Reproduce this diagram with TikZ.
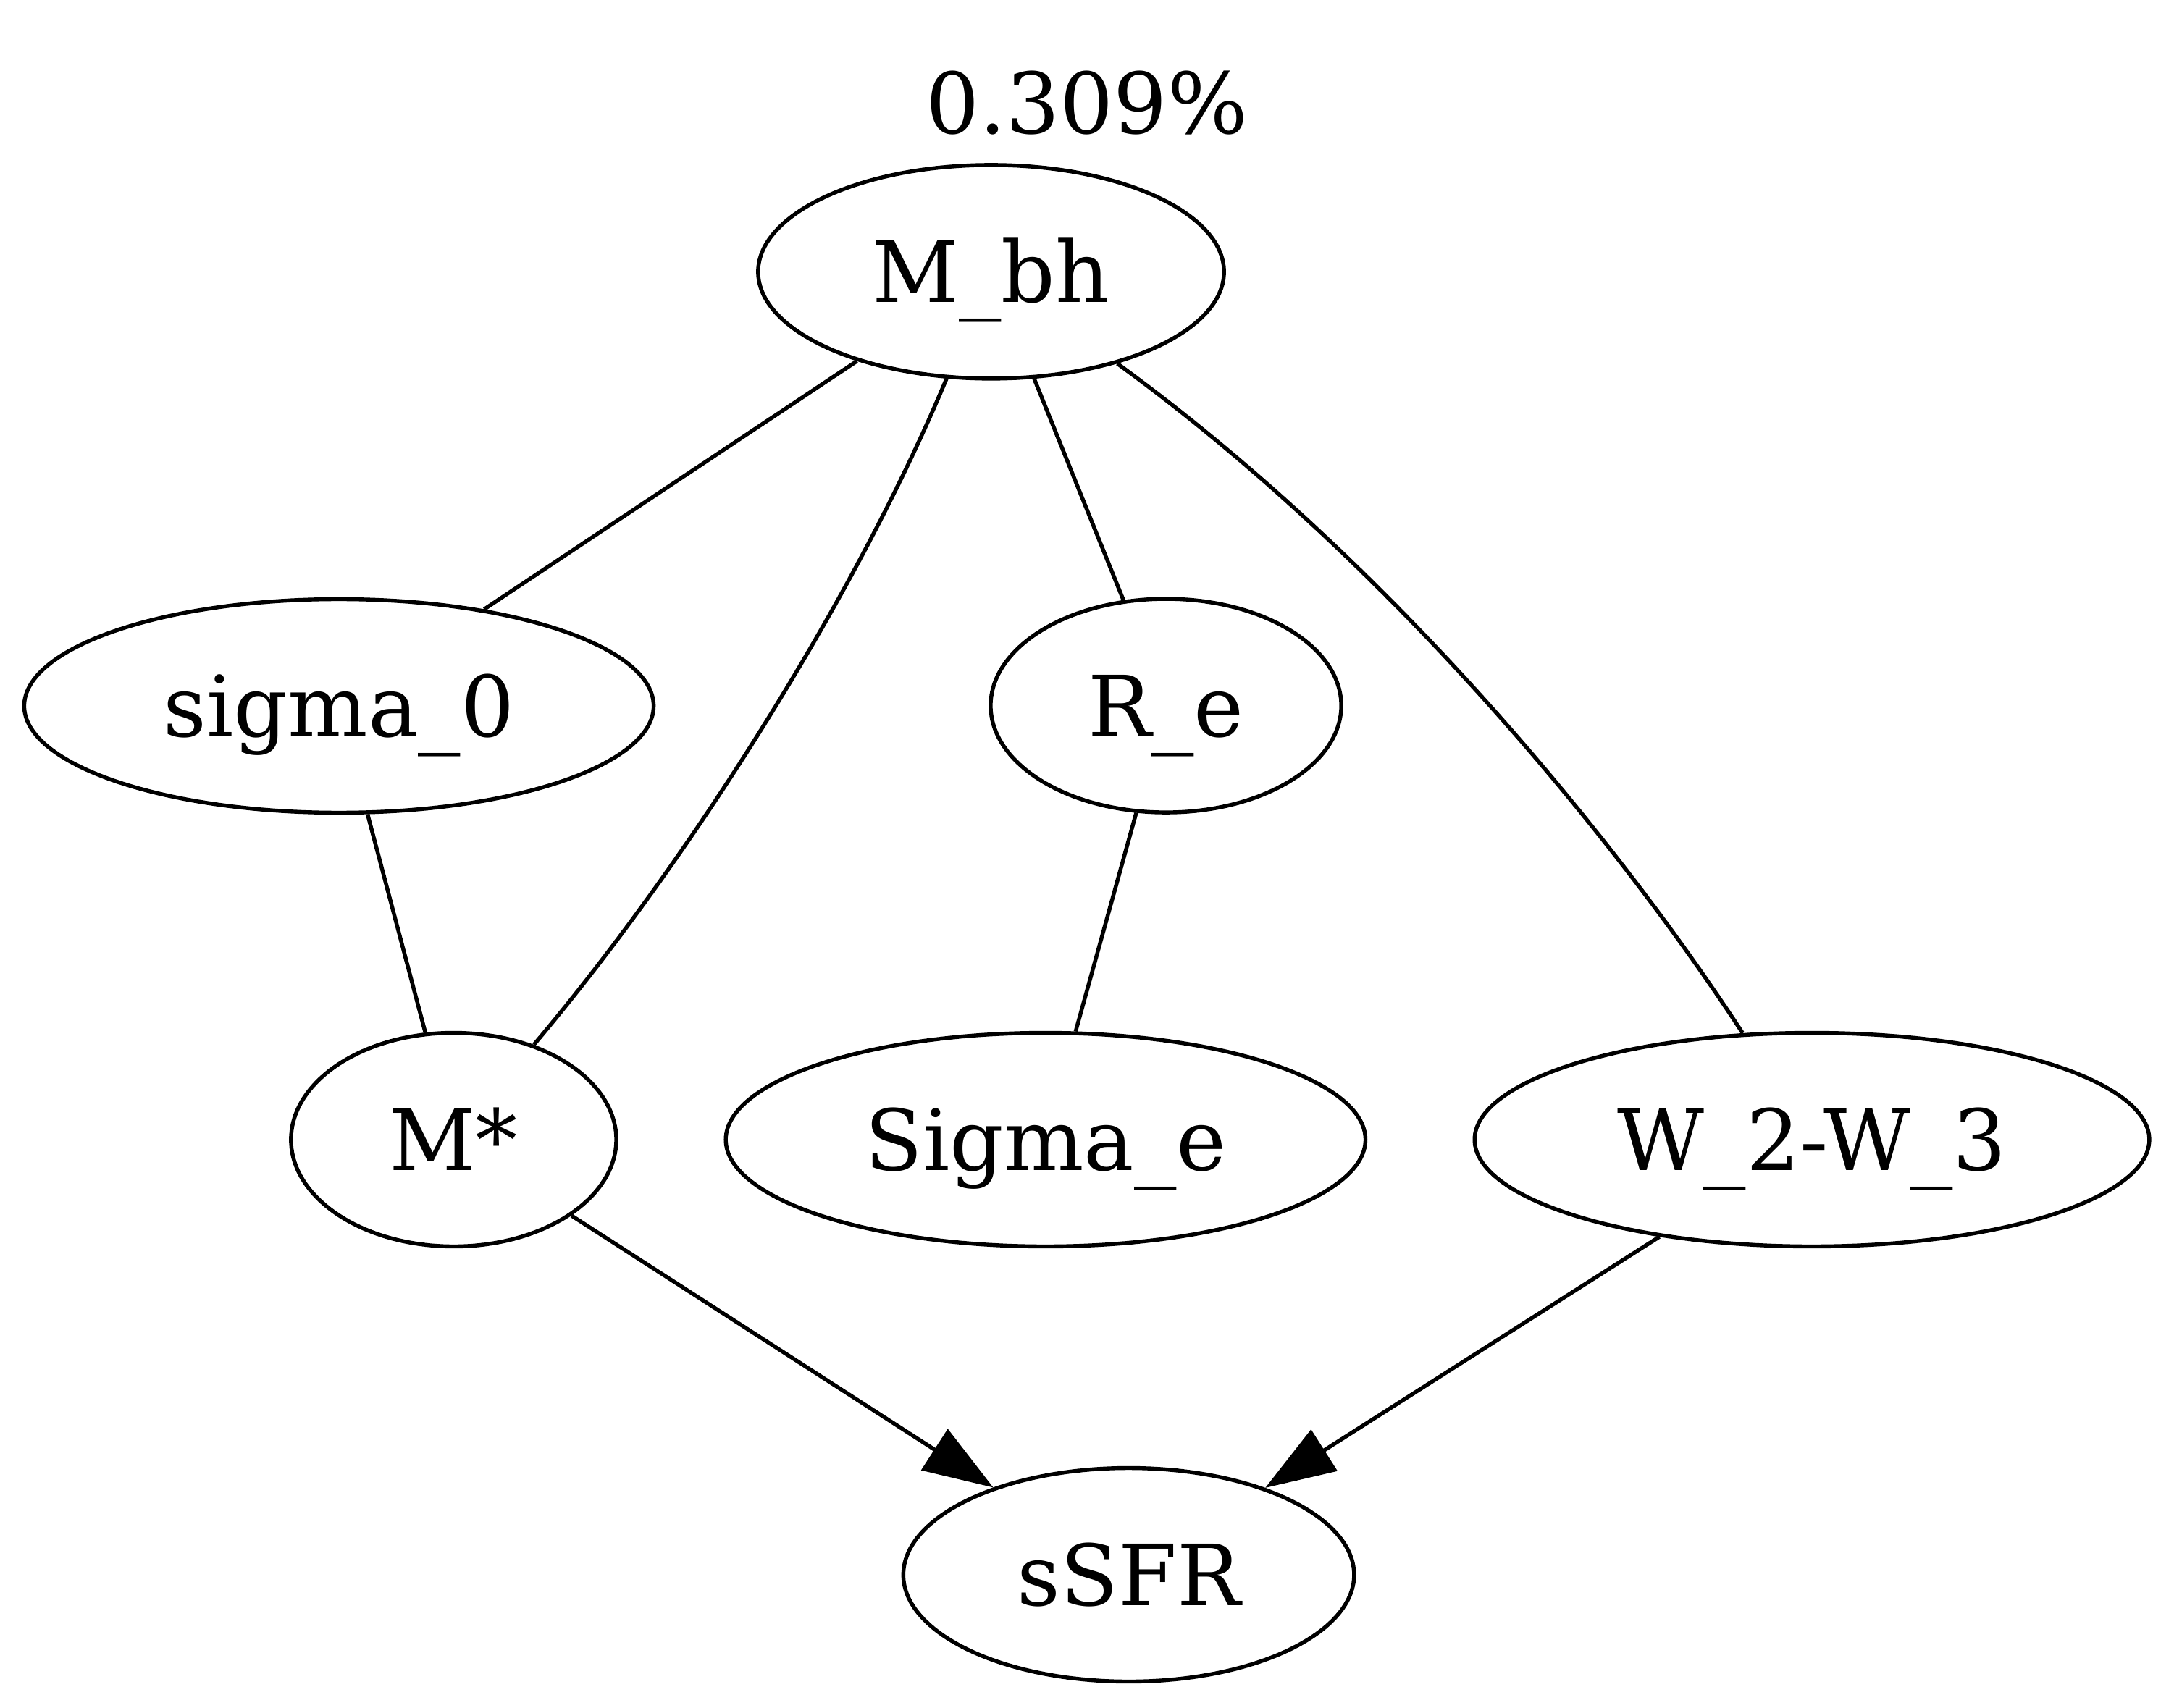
\documentclass[tikz,border=0pt]{standalone}
\usepackage{fontspec}
\setmainfont{DejaVu Serif}
\usetikzlibrary{arrows.meta, shapes.geometric}
\tikzset{
  every picture/.style={line width=0.65pt},
  var/.style={draw, ellipse, inner sep=0pt, minimum width=#1, minimum height=35.4pt,
    font=\fontsize{14}{17}\selectfont, text height=10.2pt, text depth=0pt},
  var/.default=54pt,
  arrow/.style={-{Triangle[length=11.6pt, width=8pt]}},
  note/.style={font=\fontsize{14}{17}\selectfont, anchor=base, inner sep=0pt},
}

\begin{document}
\begin{tikzpicture}
  \useasboundingbox (0,0) rectangle (360.24pt,-282.96pt);
  % variables, one rank per row
  \node[var=77.2pt] (mbh) at (164.22pt,-45.05pt) {M\_bh};
  \node[note] (frac) at (180.06pt,-22.2pt) {0.309\%};
  \node[var=104.3pt] (sigma0) at (56.16pt,-117pt) {sigma\_0};
  \node[var=58.1pt] (re) at (193.2pt,-116.95pt) {R\_e};
  \node[var=53.9pt] (mstar) at (75.17pt,-188.88pt) {M*};
  \node[var=106pt] (sigmae) at (173.26pt,-188.88pt) {Sigma\_e};
  \node[var=111.8pt] (wcol) at (300.24pt,-188.88pt) {W\_2-W\_3};
  \node[var=74.7pt] (ssfr) at (187.03pt,-261pt) {sSFR};
  % undirected links
  \draw (mbh) -- (sigma0);
  \draw (mbh) .. controls (141.7pt,-99.1pt) and (114pt,-142.9pt) .. (mstar);
  \draw (mbh) -- (re);
  \draw (mbh) .. controls (233.2pt,-95.2pt) and (270.8pt,-143.6pt) .. (wcol);
  \draw (sigma0) -- (mstar);
  \draw (re) -- (sigmae);
  % directed into sSFR
  \draw[arrow] (mstar) -- (ssfr);
  \draw[arrow] (wcol) -- (ssfr);
\end{tikzpicture}
\end{document}
